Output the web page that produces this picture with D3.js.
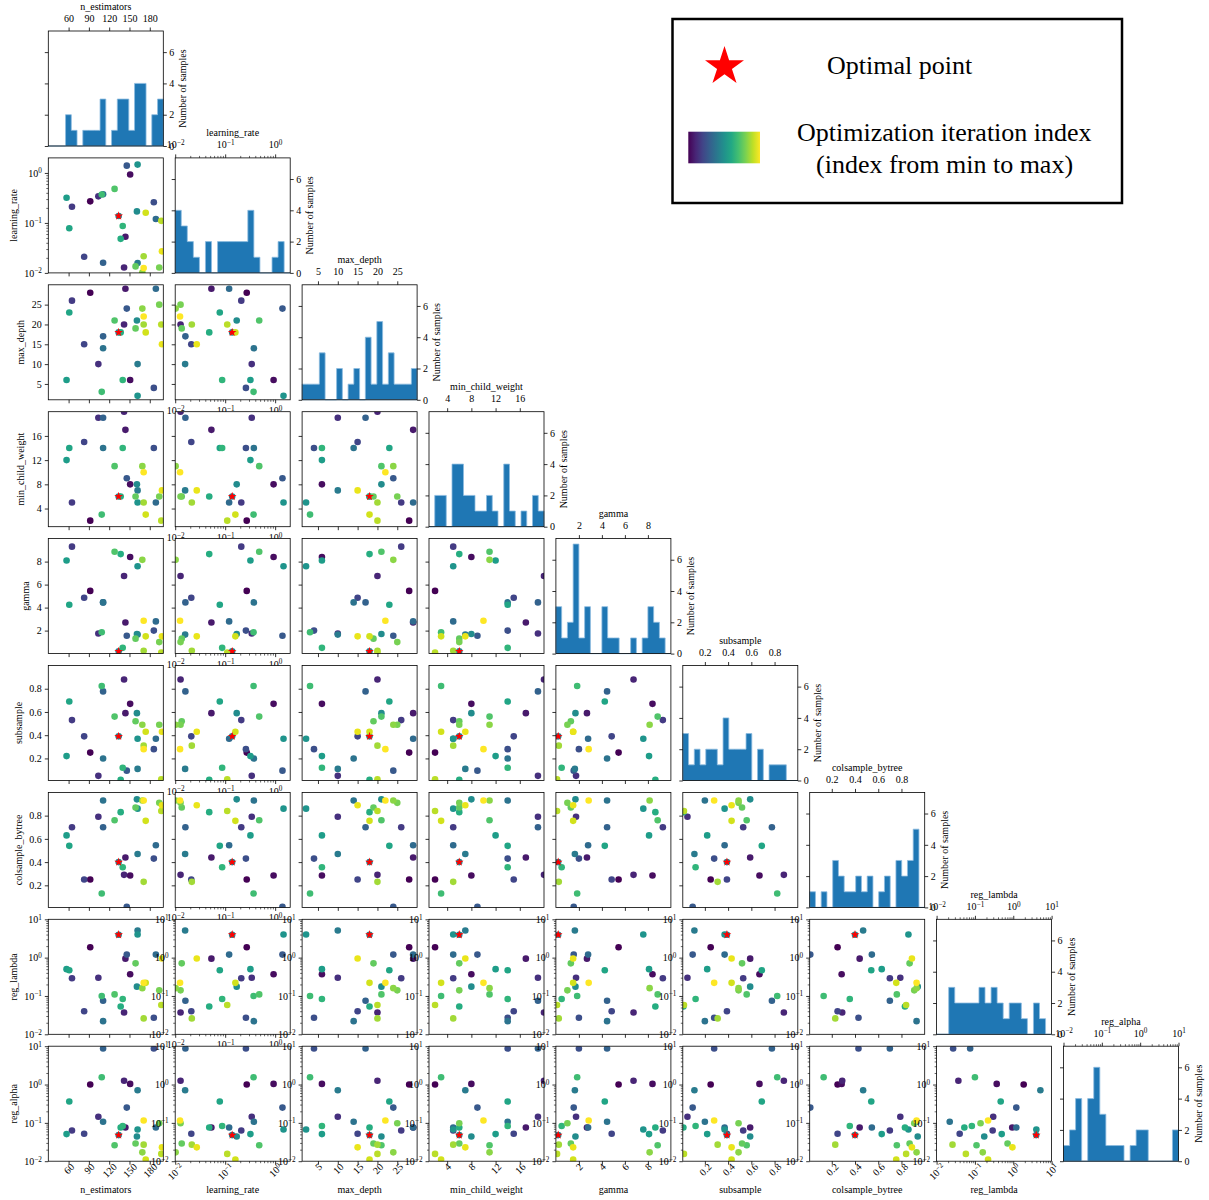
<!DOCTYPE html>
<html>
<head>
<meta charset="utf-8">
<script src="https://cdn.jsdelivr.net/npm/d3@7/dist/d3.min.js"></script>
<style>
  body { margin: 0; background: #fff; }
</style>
</head>
<body>
<svg id="chart" width="1209" height="1200"></svg>
<script>
// ---- sampled hyper-parameters, one entry per optimisation step (in evaluation order) ----
const nEstimators     = [92, 151, 144, 142, 104, 65, 83, 186, 146, 111, 189, 111, 162, 134, 161, 162, 57, 61, 137, 140, 109, 128, 159, 194, 169, 171, 197, 174, 198, 171];
const learningRate    = [0.27, 0.93, 0.053, 0.0128, 0.34, 0.21, 0.021, 0.26, 1.4, 0.016, 0.12, 0.375, 0.0158, 0.138, 0.17, 1.47, 0.32, 0.078, 0.048, 0.087, 0.37, 0.48, 0.0135, 0.0128, 0.0102, 0.0215, 0.11, 0.16, 0.027, 0.0125];
const maxDepth        = [28, 6, 29, 20, 10, 26, 15, 4, 24, 17, 29, 14, 10, 18, 21, 2, 6, 23, 18, 6, 3, 21, 19, 25, 24, 20, 20, 18, 15, 22];
const minChildWeight  = [2, 8, 17, 20, 19, 5, 15, 14, 9, 19, 5, 14, 7, 6, 8, 5, 12, 14, 6, 14, 3, 11, 6, 6, 11, 5, 2, 3, 7, 10];
const gammaValues     = [5.45, 8.4, 2.7, 6.75, 1.75, 9.3, 4.85, 2.0, 1.55, 4.45, 2.8, 4.45, 1.65, 0.2, 1.7, 7.6, 8.1, 4.25, 8.65, 0.5, 1.85, 8.85, 1.3, 1.0, 8.15, 0.25, 0.1, 1.5, 1.5, 2.85];
const subsample       = [0.25, 0.67, 0.59, 0.88, 0.05, 0.53, 0.39, 0.28, 0.095, 0.777, 0.37, 0.20, 0.11, 0.39, 0.59, 0.37, 0.22, 0.69, 0.015, 0.12, 0.823, 0.56, 0.52, 0.49, 0.49, 0.31, 0.02, 0.43, 0.43, 0.28];
const colsampleBytree = [0.25, 0.285, 0.44, 0.29, 0.79, 0.70, 0.25, 0.43, 0.015, 0.70, 0.545, 0.93, 0.47, 0.40, 0.94, 0.86, 0.63, 0.54, 0.83, 0.355, 0.13, 0.76, 0.87, 0.91, 0.93, 0.23, 0.84, 0.755, 0.89, 0.93];
const regLambda       = [1.87, 0.37, 0.94, 0.037, 0.30, 0.29, 0.04, 0.027, 1.2, 0.075, 1.2, 0.022, 5.1, 3.97, 0.175, 4.0, 0.50, 0.47, 0.053, 0.083, 0.10, 0.11, 0.71, 0.14, 0.16, 0.026, 0.058, 0.22, 0.95, 0.22];
const regAlpha        = [1.0, 1.04, 0.076, 1.25, 0.145, 0.063, 0.052, 8.7, 0.25, 8.7, 0.076, 0.107, 0.71, 0.048, 0.044, 0.067, 0.051, 0.36, 0.076, 0.083, 1.55, 0.026, 0.029, 0.098, 0.017, 0.027, 0.0155, 0.011, 0.023, 0.115];

// step that gave the best objective value
const optimalIndex = 13;

// axis tick values
const nEstimatorsTicks    = [60, 90, 120, 150, 180];
const learningRateTicks   = [0.01, 0.1, 1];
const maxDepthTicks       = [5, 10, 15, 20, 25];
const minChildWeightTicks = [4, 8, 12, 16];
const gammaTicks          = [2, 4, 6, 8];
const fractionTicks       = [0.2, 0.4, 0.6, 0.8];
const regTicks            = [0.01, 0.1, 1, 10];
const countTicks          = [0, 2, 4, 6];

const legendLabels = ["Optimal point", "Optimization iteration index", "(index from min to max)"];

// ---- search space ----
const dims = [
  { name: "n_estimators",     values: nEstimators,     domain: [30, 200],   log: false, ticks: nEstimatorsTicks },
  { name: "learning_rate",    values: learningRate,    domain: [0.01, 2],   log: true,  ticks: learningRateTicks },
  { name: "max_depth",        values: maxDepth,        domain: [1, 30],     log: false, ticks: maxDepthTicks },
  { name: "min_child_weight", values: minChildWeight,  domain: [1, 20],     log: false, ticks: minChildWeightTicks },
  { name: "gamma",            values: gammaValues,     domain: [0, 10],     log: false, ticks: gammaTicks },
  { name: "subsample",        values: subsample,       domain: [0.01, 1],   log: false, ticks: fractionTicks },
  { name: "colsample_bytree", values: colsampleBytree, domain: [0.01, 1],   log: false, ticks: fractionTicks },
  { name: "reg_lambda",       values: regLambda,       domain: [0.01, 10],  log: true,  ticks: regTicks },
  { name: "reg_alpha",        values: regAlpha,        domain: [0.01, 10],  log: true,  ticks: regTicks }
];

// ---- layout ----
const FONT = '"Liberation Serif", "Times New Roman", serif';
const FS = 10;
const ox = 48.3, oy = 31, step = 126.9, size = 115;
const N = nEstimators.length;
const dotR = 3.3;
const histMax = 7.35;
const histColor = "#1f77b4";

const svg = d3.select("#chart");
svg.append("rect").attr("width", 1209).attr("height", 1200).attr("fill", "#fff");
const defs = svg.append("defs");
defs.append("clipPath").attr("id", "panelClip")
  .append("rect").attr("width", size).attr("height", size);
const grad = defs.append("linearGradient").attr("id", "viridisGrad");
d3.range(0, 1.0001, 0.1).forEach(t => {
  grad.append("stop").attr("offset", t).attr("stop-color", d3.interpolateViridis(t));
});

const colour = i => d3.interpolateViridis(i / (N - 1));

function scaleFor(d, range) {
  return (d.log ? d3.scaleLog() : d3.scaleLinear()).domain(d.domain).range(range);
}

function minorTicks(d) {
  const out = [];
  const e0 = Math.floor(Math.log10(d.domain[0])), e1 = Math.ceil(Math.log10(d.domain[1]));
  for (let e = e0; e <= e1; e++) {
    for (let k = 2; k <= 9; k++) {
      const v = k * Math.pow(10, e);
      if (v > d.domain[0] && v < d.domain[1]) out.push(v);
    }
  }
  return out;
}

function starPath(R) {
  const r = R * 0.382, pts = [];
  for (let k = 0; k < 10; k++) {
    const a = -Math.PI / 2 + k * Math.PI / 5;
    const rad = k % 2 ? r : R;
    pts.push([rad * Math.cos(a), rad * Math.sin(a)]);
  }
  return d3.line()(pts) + "Z";
}

// "10" with a raised exponent
function supLabel(d) {
  const t = d3.select(this);
  const e = Math.round(Math.log10(d));
  t.text(null);
  t.append("tspan").text("10");
  t.append("tspan").attr("dy", "-0.45em").attr("font-size", "0.72em")
    .text(e < 0 ? "\u2212" + (-e) : String(e));
}

function finishAxis(ax, d, show) {
  ax.select(".domain").remove();
  ax.attr("font-family", FONT).attr("font-size", FS);
  ax.selectAll(".tick line").attr("stroke", "#000").attr("stroke-width", 0.8);
  if (!show) ax.selectAll(".tick text").remove();
  else {
    ax.selectAll(".tick text").attr("fill", "#000");
    if (d && d.log) ax.selectAll(".tick text").each(supLabel);
  }
}

function minorAxis(g, axisFn, scale, d, transform) {
  if (!d.log) return;
  const m = g.append("g");
  if (transform) m.attr("transform", transform);
  m.call(axisFn(scale).tickValues(minorTicks(d)).tickSize(2).tickFormat(() => ""));
  m.select(".domain").remove();
  m.selectAll(".tick line").attr("stroke", "#000").attr("stroke-width", 0.6);
  m.selectAll(".tick text").remove();
}

function rotateLabels(ax) {
  ax.selectAll(".tick text").each(function () {
    const b = this.getBBox();
    const half = (b.width + b.height) / (2 * Math.SQRT2);
    d3.select(this).attr("transform",
      `translate(0,${7 + half - (3.5 + 3.5)}) rotate(-45) translate(${-(b.x + b.width / 2)},${-(b.y + b.height / 2)})`);
  });
}

function drawScatter(g, dx, dy, c, r) {
  const xs = scaleFor(dx, [0, size]);
  const ys = scaleFor(dy, [size, 0]);
  g.append("rect").attr("width", size).attr("height", size).attr("fill", "#fff");

  const pg = g.append("g").attr("clip-path", "url(#panelClip)");
  pg.selectAll("circle").data(d3.range(N)).join("circle")
    .attr("cx", i => xs(dx.values[i]))
    .attr("cy", i => ys(dy.values[i]))
    .attr("r", dotR)
    .attr("fill", i => colour(i));
  pg.append("path")
    .attr("d", starPath(4.6))
    .attr("transform", `translate(${xs(dx.values[optimalIndex])},${ys(dy.values[optimalIndex])})`)
    .attr("fill", "#ff0000");

  // left axis (labels on the first column; log axes keep theirs everywhere)
  const la = g.append("g").call(d3.axisLeft(ys).tickValues(dy.ticks).tickSize(3.5).tickPadding(3));
  finishAxis(la, dy, c === 0 || dy.log);
  minorAxis(g, d3.axisLeft, ys, dy, null);

  // bottom axis (rotated labels on the last row; log axes keep theirs everywhere)
  const ba = g.append("g").attr("transform", `translate(0,${size})`)
    .call(d3.axisBottom(xs).tickValues(dx.ticks).tickSize(3.5).tickPadding(3.5));
  finishAxis(ba, dx, r === 8 || dx.log);
  if (r === 8) rotateLabels(ba);
  minorAxis(g, d3.axisBottom, xs, dx, `translate(0,${size})`);

  g.append("rect").attr("width", size).attr("height", size)
    .attr("fill", "none").attr("stroke", "#000").attr("stroke-width", 0.8);

  if (c === 0) {
    const bb = la.node().getBBox();
    g.append("text")
      .attr("transform", `translate(${bb.x - 7.5},${size / 2}) rotate(-90)`)
      .attr("text-anchor", "middle")
      .attr("font-family", FONT).attr("font-size", FS)
      .text(dy.name);
  }
  if (r === 8) {
    g.append("text")
      .attr("x", size / 2).attr("y", 1193.5 - (oy + 8 * step))
      .attr("text-anchor", "middle")
      .attr("font-family", FONT).attr("font-size", FS)
      .text(dx.name);
  }
}

function drawHist(g, d) {
  const xs = scaleFor(d, [0, size]);
  const hy = d3.scaleLinear().domain([0, histMax]).range([size, 0]);
  g.append("rect").attr("width", size).attr("height", size).attr("fill", "#fff");

  // 20 equal bins, or 19 log-spaced bins on log axes
  const n = d.log ? 19 : 20;
  const lo = d.log ? Math.log10(d.domain[0]) : d.domain[0];
  const hi = d.log ? Math.log10(d.domain[1]) : d.domain[1];
  const w = (hi - lo) / n;
  const counts = new Array(n).fill(0);
  d.values.forEach(v => {
    const t = d.log ? Math.log10(v) : v;
    let k = Math.floor((t - lo) / w + 1e-9);
    k = Math.max(0, Math.min(n - 1, k));
    counts[k]++;
  });
  const edges = d3.range(n + 1).map(k => d.log ? Math.pow(10, lo + k * w) : lo + k * w);
  const pts = [[edges[0], 0]];
  counts.forEach((cnt, k) => { pts.push([edges[k], cnt]); pts.push([edges[k + 1], cnt]); });
  pts.push([edges[n], 0]);
  const line = d3.line().x(p => xs(p[0])).y(p => hy(p[1]));
  g.append("path").attr("d", line(pts) + "Z")
    .attr("fill", histColor).attr("stroke", "#8dbbe0").attr("stroke-width", 0.8);

  // top axis with the dimension name
  const ta = g.append("g").call(d3.axisTop(xs).tickValues(d.ticks).tickSize(3.5).tickPadding(6));
  finishAxis(ta, d, true);
  minorAxis(g, d3.axisTop, xs, d, null);
  g.append("text").attr("x", size / 2).attr("y", -21.5)
    .attr("text-anchor", "middle").attr("font-family", FONT).attr("font-size", FS)
    .text(d.name);

  // counts on the right
  const ra = g.append("g").attr("transform", `translate(${size},0)`)
    .call(d3.axisRight(hy).tickValues(countTicks).tickSize(3.5).tickPadding(2.5));
  finishAxis(ra, null, true);
  const lt = g.append("g").call(d3.axisLeft(hy).tickValues(countTicks).tickSize(3.5));
  finishAxis(lt, null, false);
  g.append("text")
    .attr("transform", `translate(${size + 23},${size / 2}) rotate(-90)`)
    .attr("text-anchor", "middle").attr("font-family", FONT).attr("font-size", FS)
    .text("Number of samples");

  g.append("rect").attr("width", size).attr("height", size)
    .attr("fill", "none").attr("stroke", "#000").attr("stroke-width", 0.8);
}

// ---- lower-triangle grid ----
for (let r = 0; r < dims.length; r++) {
  for (let c = 0; c <= r; c++) {
    const g = svg.append("g").attr("transform", `translate(${ox + c * step},${oy + r * step})`);
    if (r === c) drawHist(g, dims[r]);
    else drawScatter(g, dims[c], dims[r], c, r);
  }
}

// ---- legend ----
const lg = svg.append("g");
lg.append("rect").attr("x", 672.5).attr("y", 19).attr("width", 449.5).attr("height", 184)
  .attr("fill", "#fff").attr("stroke", "#000").attr("stroke-width", 2.5);
lg.append("path").attr("d", starPath(20.5)).attr("transform", "translate(724.5,66.5)").attr("fill", "#ff0000");
lg.append("text").attr("x", 827).attr("y", 73.5)
  .attr("font-family", FONT).attr("font-size", 26).text(legendLabels[0]);
lg.append("rect").attr("x", 688.3).attr("y", 131.7).attr("width", 71.7).attr("height", 31.6)
  .attr("fill", "url(#viridisGrad)");
lg.append("text").attr("x", 797).attr("y", 140.5)
  .attr("font-family", FONT).attr("font-size", 26).text(legendLabels[1]);
lg.append("text").attr("x", 816).attr("y", 172.5)
  .attr("font-family", FONT).attr("font-size", 26).text(legendLabels[2]);
</script>
</body>
</html>
